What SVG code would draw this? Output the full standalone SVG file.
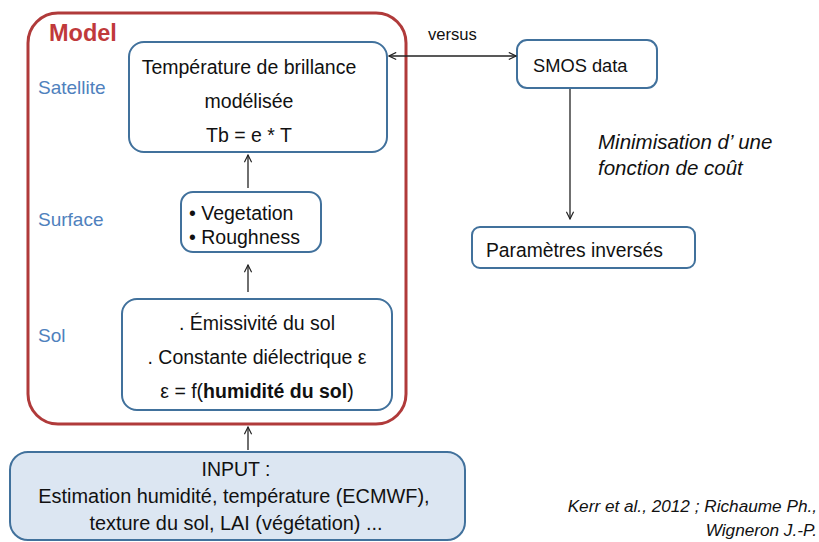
<svg xmlns="http://www.w3.org/2000/svg" width="819" height="542" viewBox="0 0 819 542">
<defs>
<style>
.t{font-family:"Liberation Sans","Open Sans",sans-serif;font-size:19.5px;fill:#111}
.lab{font-family:"Liberation Sans","Open Sans",sans-serif;font-size:19px;fill:#4F81BD}
.box{fill:#fff;stroke:#41719C;stroke-width:2}
.c{stroke:#222;stroke-width:1.3;fill:none}
.i{font-style:italic}
</style>
<marker id="ah" viewBox="0 0 10 10" refX="9" refY="5" markerWidth="9" markerHeight="9" orient="auto-start-reverse" markerUnits="userSpaceOnUse">
<path d="M1,1 L9,5 L1,9" fill="none" stroke="#222" stroke-width="1.3"/>
</marker>
</defs>
<rect width="819" height="542" fill="#fff"/>
<g id="model">
<rect x="28" y="13" width="378" height="411" rx="30" fill="none" stroke="#B03A3A" stroke-width="3"/>
<text x="49" y="41" font-family="Liberation Sans,sans-serif" font-size="23.5" font-weight="bold" fill="#C0393B">Model</text>
<text class="lab" x="38" y="94">Satellite</text>
<text class="lab" x="38" y="226">Surface</text>
<text class="lab" x="38" y="342">Sol</text>
</g>
<g id="satellite">
<rect class="box" x="129" y="42" width="258" height="110" rx="15"/>
<text class="t" x="249" y="74" text-anchor="middle">Température de brillance</text>
<text class="t" x="249" y="108" text-anchor="middle">modélisée</text>
<text class="t" x="249" y="142" text-anchor="middle">Tb = e * T</text>
</g>
<g id="surface">
<rect class="box" x="181" y="192" width="140" height="60" rx="12"/>
<text class="t" x="189" y="220">• Vegetation</text>
<text class="t" x="189" y="244">• Roughness</text>
</g>
<g id="sol">
<rect class="box" x="122" y="299" width="270" height="111" rx="15"/>
<text class="t" x="257" y="330" text-anchor="middle">. Émissivité du sol</text>
<text class="t" x="257" y="364" text-anchor="middle">. Constante diélectrique ε</text>
<text class="t" x="257" y="398" text-anchor="middle">ε = f(<tspan font-weight="bold">humidité du sol</tspan>)</text>
</g>
<g id="input">
<rect x="10" y="452" width="455" height="88" rx="18" fill="#DCE6F2" stroke="#41719C" stroke-width="2"/>
<text class="t" x="236" y="476" text-anchor="middle">INPUT :</text>
<text class="t" x="234" y="503" text-anchor="middle" style="font-size:19.9px">Estimation humidité, température (ECMWF),</text>
<text class="t" x="236" y="530" text-anchor="middle" style="font-size:19.9px">texture du sol, LAI (végétation) ...</text>
</g>
<g id="smos">
<rect class="box" x="517" y="40" width="140" height="48" rx="10"/>
<text class="t" x="533" y="72" style="font-size:18.3px">SMOS data</text>
</g>
<g id="params">
<rect class="box" x="472" y="227" width="223" height="41" rx="8"/>
<text class="t" x="486" y="257" style="font-size:19.3px">Paramètres inversés</text>
</g>
<g id="connectors">
<line class="c" x1="248" y1="188" x2="248" y2="155" marker-end="url(#ah)"/>
<line class="c" x1="248" y1="292" x2="248" y2="265" marker-end="url(#ah)"/>
<line class="c" x1="248" y1="450" x2="248" y2="427" marker-end="url(#ah)"/>
<line class="c" x1="389" y1="56" x2="516" y2="56" marker-start="url(#ah)" marker-end="url(#ah)"/>
<line class="c" x1="570" y1="89" x2="570" y2="219" marker-end="url(#ah)"/>
<text class="t" x="428" y="40" style="font-size:16.6px">versus</text>
<text class="t i" x="598" y="149" style="font-size:20.5px">Minimisation d’ une</text>
<text class="t i" x="598" y="175" style="font-size:20.5px">fonction de coût</text>
</g>
<g id="ref">
<text class="t i" x="817" y="512" text-anchor="end" style="font-size:17.2px">Kerr et al., 2012 ; Richaume Ph.,</text>
<text class="t i" x="817" y="536" text-anchor="end" style="font-size:17.2px">Wigneron J.-P.</text>
</g>
</svg>
